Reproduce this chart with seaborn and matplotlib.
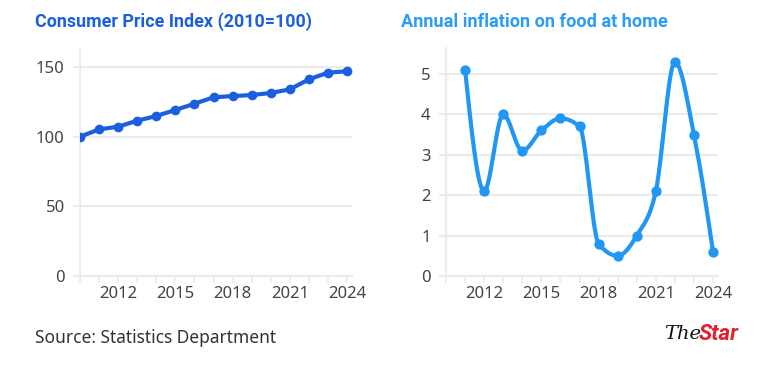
import numpy as np
import pandas as pd
import matplotlib
matplotlib.use("Agg")
import matplotlib.pyplot as plt
import seaborn as sns

# ---- data ----
cpi_years = [2010, 2011, 2012, 2013, 2014, 2015, 2016, 2017, 2018, 2019, 2020, 2021, 2022, 2023, 2024]
cpi_values = [100, 105.3, 107.2, 111.5, 114.9, 119.2, 123.7, 128.3, 129.2, 129.9, 131.4, 134.0, 141.2, 146.0, 147.0]

food_years = [2011, 2012, 2013, 2014, 2015, 2016, 2017, 2018, 2019, 2020, 2021, 2022, 2023, 2024]
food_values = [5.1, 2.1, 4.0, 3.1, 3.6, 3.9, 3.7, 0.8, 0.5, 1.0, 2.1, 5.3, 3.5, 0.6]

xtick_labels = [2012, 2015, 2018, 2021, 2024]
cpi_yticks = [0, 50, 100, 150]
food_yticks = [0, 1, 2, 3, 4, 5]

left_title = "Consumer Price Index (2010=100)"
right_title = "Annual inflation on food at home"
source = "Source: Statistics Department"

DARK = "#1a5fe0"
LIGHT = "#2196f3"
GRID = "#ebebeb"
TXT = "#444444"


def monotone_x(x, y, n=30):
    """d3.curveMonotoneX style rendering of a line through the points."""
    x = np.asarray(x, float); y = np.asarray(y, float)
    m = len(x)
    h = np.diff(x); s = np.diff(y) / h
    t = np.zeros(m)
    for i in range(1, m - 1):
        h0, h1, s0, s1 = h[i-1], h[i], s[i-1], s[i]
        p = (s0 * h1 + s1 * h0) / (h0 + h1)
        t[i] = (np.sign(s0) + np.sign(s1)) * min(abs(s0), abs(s1), 0.5 * abs(p))
    t[0] = (3 * s[0] - t[1]) / 2
    t[-1] = (3 * s[-1] - t[-2]) / 2
    xs, ys = [], []
    for i in range(m - 1):
        u = np.linspace(0, 1, n, endpoint=(i == m - 2))
        dx = h[i]
        p0 = (x[i], y[i]); p3 = (x[i+1], y[i+1])
        p1 = (x[i] + dx / 3, y[i] + dx / 3 * t[i])
        p2 = (x[i+1] - dx / 3, y[i+1] - dx / 3 * t[i+1])
        b0 = (1-u)**3; b1 = 3*(1-u)**2*u; b2 = 3*(1-u)*u**2; b3 = u**3
        xs.append(b0*p0[0] + b1*p1[0] + b2*p2[0] + b3*p3[0])
        ys.append(b0*p0[1] + b1*p1[1] + b2*p2[1] + b3*p3[1])
    return np.concatenate(xs), np.concatenate(ys)


sns.set_theme(style="white")
plt.rcParams["font.family"] = ["Noto Sans", "DejaVu Sans"]

fig = plt.figure(figsize=(7.81, 3.80), dpi=100)
axL = fig.add_axes([80/781, 1 - 276/380, 272/781, 228/380])
axR = fig.add_axes([446/781, 1 - 276/380, 272/781, 228/380])

cpi_df = pd.DataFrame({"year": cpi_years, "value": cpi_values})
sns.lineplot(data=cpi_df, x="year", y="value", ax=axL, color=DARK, linewidth=3,
             marker="o", markersize=7, markeredgewidth=0, zorder=3)

fx, fy = monotone_x(food_years, food_values)
curve_df = pd.DataFrame({"year": fx, "value": fy})
food_df = pd.DataFrame({"year": food_years, "value": food_values})
sns.lineplot(data=curve_df, x="year", y="value", ax=axR, color=LIGHT, linewidth=3,
             sort=False, zorder=3)
sns.scatterplot(data=food_df, x="year", y="value", ax=axR, color=LIGHT, s=55,
                linewidth=0, zorder=4)

for ax, ymax, yt in [(axL, 163.7, cpi_yticks), (axR, 5.64, food_yticks)]:
    ax.set_xlim(2010, 2024.26)
    ax.set_ylim(0, ymax)
    ax.set_yticks(yt)
    ax.set_yticklabels([str(v) for v in yt])
    ax.set_xticks(range(2010, 2025))
    ax.set_xticklabels([str(y) if y in xtick_labels else "" for y in range(2010, 2025)])
    ax.set_xlabel(""); ax.set_ylabel("")
    ax.grid(axis="y", color=GRID, linewidth=1.5)
    ax.grid(axis="x", visible=False)
    for sp in ["top", "right"]:
        ax.spines[sp].set_visible(False)
    for sp in ["left", "bottom"]:
        ax.spines[sp].set_color(GRID)
        ax.spines[sp].set_linewidth(1.5)
    ax.tick_params(axis="x", length=5, width=1.2, color=GRID, pad=2,
                   labelsize=12, labelcolor=TXT, bottom=True)
    ax.tick_params(axis="y", length=5, width=1.5, color=GRID, pad=6,
                   labelsize=12, labelcolor=TXT, left=True)
    ax.set_axisbelow(True)

fig.text(35/781, 1 - 22/380, left_title, color=DARK, fontsize=12.9,
         fontweight="bold", family=["Roboto", "DejaVu Sans"], ha="left", va="center")
fig.text(401/781, 1 - 22/380, right_title, color="#2a9df4", fontsize=13.1,
         fontweight="bold", family=["Roboto", "DejaVu Sans"], ha="left", va="center")
fig.text(35/781, 1 - 338/380, source, color="#333333", fontsize=12.5,
         ha="left", va="center")

fig.text(664/781, 1 - 334/380, "The", color="#111111", fontsize=14,
         fontstyle="italic", family=["DejaVu Serif"], ha="left", va="center")
fig.text(699/781, 1 - 334/380, "Star", color="#e0202a", fontsize=16,
         fontweight="bold", fontstyle="italic", family=["Roboto", "DejaVu Sans"],
         ha="left", va="center")

fig.savefig("out.png", dpi=100, facecolor="white")
